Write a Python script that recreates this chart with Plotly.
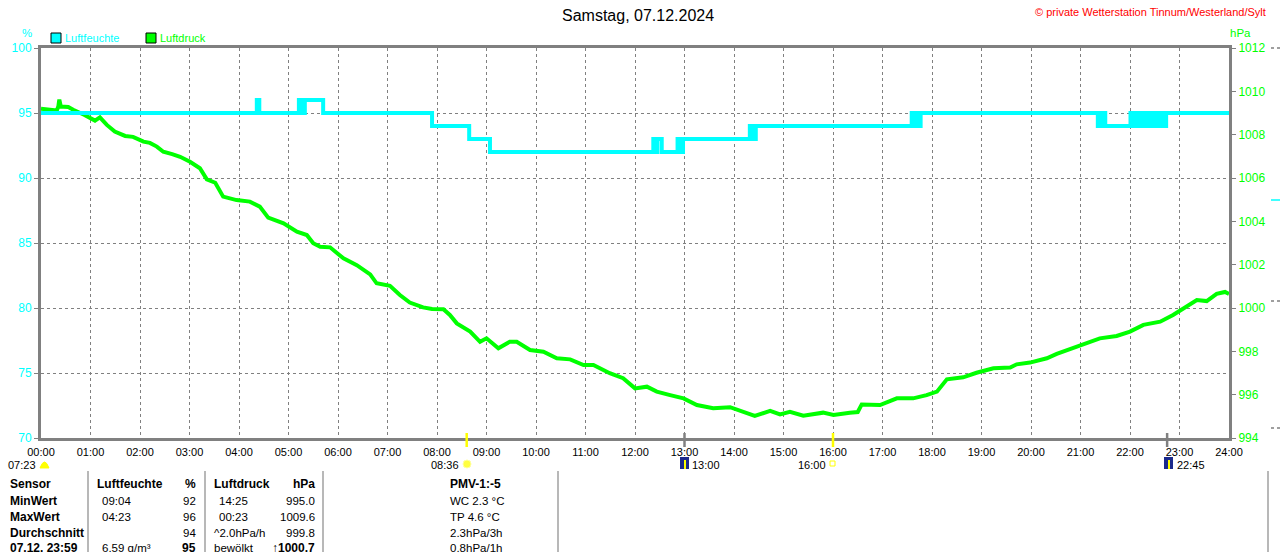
import plotly.graph_objects as go

# Luftdruck (hPa), Zeit in Stunden
druck_zeit = [0.00, 0.18, 0.32, 0.35, 0.37, 0.40, 0.55, 0.65, 0.80, 0.88, 1.09, 1.19,
              1.33, 1.49, 1.70, 1.86, 2.07, 2.20, 2.34, 2.47, 2.65, 2.81, 3.01, 3.21,
              3.35, 3.52, 3.68, 3.95, 4.22, 4.42, 4.59, 4.90, 5.17, 5.37, 5.50, 5.64,
              5.84, 6.11, 6.38, 6.65, 6.78, 7.05, 7.25, 7.45, 7.72, 7.90, 8.13, 8.26,
              8.40, 8.67, 8.87, 9.00, 9.24, 9.47, 9.61, 9.88, 10.15, 10.42, 10.69, 10.96,
              11.16, 11.49, 11.76, 12.00, 12.24, 12.44, 12.71, 12.98, 13.25, 13.58, 13.92, 14.19,
              14.42, 14.73, 14.93, 15.13, 15.40, 15.80, 16.01, 16.34, 16.50, 16.58, 16.95, 17.29,
              17.62, 17.89, 18.10, 18.30, 18.63, 18.90, 19.24, 19.58, 19.71, 19.98, 20.32, 20.52,
              20.85, 21.13, 21.39, 21.73, 22.00, 22.27, 22.61, 22.87, 23.15, 23.35, 23.55, 23.75,
              23.92, 24.00]
druck_hpa = [1009.20, 1009.15, 1009.12, 1009.30, 1009.62, 1009.30, 1009.28, 1009.15, 1009.00, 1008.91, 1008.65, 1008.80,
             1008.45, 1008.14, 1007.94, 1007.90, 1007.68, 1007.62, 1007.45, 1007.21, 1007.10, 1006.98, 1006.75, 1006.45,
             1005.94, 1005.78, 1005.14, 1004.98, 1004.91, 1004.68, 1004.17, 1003.91, 1003.52, 1003.37, 1002.99, 1002.83,
             1002.80, 1002.29, 1001.98, 1001.55, 1001.14, 1001.02, 1000.60, 1000.25, 1000.03, 999.95, 999.94, 999.68,
             999.29, 998.91, 998.44, 998.60, 998.14, 998.44, 998.44, 998.06, 997.98, 997.68, 997.63, 997.37,
             997.37, 996.99, 996.76, 996.29, 996.37, 996.14, 995.98, 995.83, 995.52, 995.37, 995.42, 995.21,
             995.02, 995.25, 995.09, 995.21, 995.03, 995.17, 995.06, 995.17, 995.20, 995.55, 995.52, 995.83,
             995.83, 995.98, 996.14, 996.71, 996.80, 997.01, 997.22, 997.25, 997.40, 997.48, 997.68, 997.88,
             998.14, 998.40, 998.60, 998.71, 998.91, 999.22, 999.37, 999.68, 1000.06, 1000.37, 1000.32, 1000.65,
             1000.74, 1000.65]

# Luftfeuchte (%), Stufen
feuchte_zeit = [0.00, 4.36, 4.41, 5.21, 5.24, 5.27, 5.30, 5.33, 5.70, 7.90, 8.65, 9.07,
                12.37, 12.41, 12.45, 12.54, 12.86, 12.89, 12.92, 12.95, 12.97,
                14.32, 14.35, 14.38, 14.41, 14.44,
                17.59, 17.62, 17.65, 17.68, 17.71, 17.74, 17.77,
                21.35, 21.38, 21.42, 21.46, 21.50,
                22.01, 22.06, 22.10, 22.15, 22.19, 22.24, 22.28, 22.33, 22.37, 22.42, 22.46,
                22.51, 22.55, 22.60, 22.64, 22.69, 22.73, 24.00]
feuchte_pct = [95, 96, 95, 96, 95, 96, 95, 96, 95, 94, 93, 92,
               93, 92, 93, 92, 93, 92, 93, 92, 93,
               94, 93, 94, 93, 94,
               95, 94, 95, 94, 95, 94, 95,
               94, 95, 94, 95, 94,
               95, 94, 95, 94, 95, 94, 95, 94, 95, 94, 95,
               94, 95, 94, 95, 94, 95, 95]

stunden = list(range(25))
stunden_text = ["%02d:00" % h for h in stunden]

# Tabelle unten
tab_sensor = ["Sensor", "MinWert", "MaxWert", "Durchschnitt", "07.12. 23:59"]
tab_lf_zeit = ["Luftfeuchte", "09:04", "04:23", "", "6.59 g/m³"]
tab_lf_wert = ["%", "92", "96", "94", "95"]
tab_ld_zeit = ["Luftdruck", "14:25", "00:23", "^2.0hPa/h", "bewölkt"]
tab_ld_wert = ["hPa", "995.0", "1009.6", "999.8", "↑1000.7"]
tab_pmv = ["PMV-1:-5", "WC 2.3 °C", "TP 4.6 °C", "2.3hPa/3h", "0.8hPa/1h"]

CYAN = "#00FFFF"
GRUEN = "#00FF00"
GRAU = "#808080"
ARIAL = "Liberation Sans, Arial"


# pixel -> paper (Plotbereich 41..1229 x 48..438)
def fx(px):
    return (px - 41) / 1188.0


def fy(py):
    return (438 - py) / 390.0


fig = go.Figure()

fig.add_trace(go.Scatter(
    x=druck_zeit, y=druck_hpa, mode="lines", yaxis="y",
    line=dict(color=GRUEN, width=4), hoverinfo="x+y"
))
fig.add_trace(go.Scatter(
    x=feuchte_zeit, y=feuchte_pct, mode="lines", yaxis="y2",
    line=dict(color=CYAN, width=4, shape="hv"), hoverinfo="x+y"
))

ann = []


def txt(x, y, s, color="black", size=11.5, xa="left", bold=False):
    ann.append(dict(
        x=fx(x), y=fy(y), xref="paper", yref="paper", showarrow=False,
        text="<b>%s</b>" % s if bold else s, xanchor=xa, yanchor="middle",
        font=dict(color=color, size=12 if bold else size, family=ARIAL)
    ))


txt(638, 15, "Samstag, 07.12.2024", size=16, xa="center")
txt(1268, 12, "© private Wetterstation Tinnum/Westerland/Sylt", color="#FF0000", size=11, xa="right")
txt(27, 33, "%", color=CYAN, xa="center")
txt(1240, 33, "hPa", color=GRUEN, xa="center")
txt(63, 38, "Luftfeuchte", color=CYAN, size=11)
txt(158, 38, "Luftdruck", color=GRUEN, size=11)

# Sonne / Mond Zeiten
txt(38, 465, "07:23", size=11, xa="right")
txt(461, 465, "08:36", size=11, xa="right")
txt(690, 465, "13:00", size=11)
txt(828, 465, "16:00", size=11, xa="right")
txt(1175, 465, "22:45", size=11)

rows_y = [484, 501, 517, 533, 548]
for i, y in enumerate(rows_y):
    kopf = i == 0
    txt(8, y, tab_sensor[i], bold=True)
    txt(95 if kopf else 100, y, tab_lf_zeit[i], bold=kopf)
    txt(198, y, tab_lf_wert[i], xa="right", bold=(kopf or i == 4))
    txt(212 if (kopf or i > 2) else 217, y, tab_ld_zeit[i], bold=kopf)
    txt(317, y, tab_ld_wert[i], xa="right", bold=(kopf or i == 4))
    txt(448, y, tab_pmv[i], bold=kopf)

shapes = []
# Legendenkaestchen
for x0, c in [(51, CYAN), (146, GRUEN)]:
    shapes.append(dict(type="rect", xref="paper", yref="paper",
                       x0=fx(x0), x1=fx(x0 + 10), y0=fy(33), y1=fy(43),
                       fillcolor=c, line=dict(color="black", width=1)))
# Tabellentrennlinien
for x in [88, 205, 323, 558, 1268]:
    shapes.append(dict(type="line", xref="paper", yref="paper",
                       x0=fx(x), x1=fx(x), y0=fy(471), y1=fy(556),
                       line=dict(color="#A0A0A0", width=1.5)))
# Markierungen auf der Zeitachse
for t, c in [(8.6, "#FFFF00"), (16.0, "#FFFF00"), (13.0, GRAU), (22.75, GRAU)]:
    shapes.append(dict(type="line", xref="x", yref="paper", x0=t, x1=t,
                       y0=fy(433), y1=fy(447), line=dict(color=c, width=2.5)))
# Symbole
shapes.append(dict(type="path", xref="paper", yref="paper",
                   path="M %f,%f Q %f,%f %f,%f Z" % (fx(40), fy(468), fx(44.5), fy(456), fx(49), fy(468)),
                   fillcolor="#FFFF00", line=dict(color="#FFFF00", width=1)))
shapes.append(dict(type="circle", xref="paper", yref="paper",
                   x0=fx(463), x1=fx(471), y0=fy(460), y1=fy(468),
                   fillcolor="#FFFF40", line=dict(color="#FFFFA0", width=1)))
shapes.append(dict(type="rect", xref="paper", yref="paper",
                   x0=fx(830), x1=fx(835), y0=fy(461), y1=fy(466),
                   line=dict(color="#FFFF00", width=1)))
for x0 in [680, 1164]:
    shapes.append(dict(type="rect", xref="paper", yref="paper",
                       x0=fx(x0), x1=fx(x0 + 9), y0=fy(457), y1=fy(469),
                       fillcolor="#1C2A8C", line=dict(width=0)))
    shapes.append(dict(type="line", xref="paper", yref="paper",
                       x0=fx(x0 + 5), x1=fx(x0 + 5), y0=fy(460), y1=fy(469),
                       line=dict(color="#FFFF00", width=2)))
# Reste einer weiteren Achse am rechten Rand
for y, c in [(48, GRAU), (200, CYAN), (301, GRAU), (428, GRAU)]:
    shapes.append(dict(type="line", xref="paper", yref="paper",
                       x0=fx(1271), x1=fx(1280), y0=fy(y), y1=fy(y),
                       line=dict(color=c, width=1.5, dash="dot" if c == GRAU else "solid")))

fig.update_layout(
    width=1280, height=552,
    paper_bgcolor="white", plot_bgcolor="white",
    margin=dict(l=41, r=51, t=48, b=114),
    showlegend=False,
    hovermode="closest",
    annotations=ann,
    shapes=shapes,
    xaxis=dict(range=[0, 24], tickvals=stunden, ticktext=stunden_text,
               showgrid=True, gridcolor=GRAU, griddash="3px,3px", gridwidth=1,
               showline=True, linecolor=GRAU, linewidth=3, mirror=True,
               zeroline=False, ticks="", ticklabelstandoff=2,
               tickfont=dict(color="black", size=11, family=ARIAL)),
    yaxis=dict(range=[994, 1012], dtick=2, side="right", showgrid=False,
               showline=True, linecolor=GRAU, linewidth=3,
               zeroline=False, ticks="outside", ticklen=4, tickcolor=GRAU,
               tickfont=dict(color=GRUEN, size=12, family=ARIAL)),
    yaxis2=dict(range=[70, 100], dtick=5, side="left", overlaying="y",
                showgrid=True, gridcolor=GRAU, griddash="3px,3px", gridwidth=1,
                showline=True, linecolor=GRAU, linewidth=3,
                zeroline=False, ticks="outside", ticklen=4, tickcolor=GRAU,
                tickfont=dict(color=CYAN, size=12, family=ARIAL)),
)

fig.write_html("out.html", config={"displayModeBar": False},
               post_script="document.body.style.margin='0';")
